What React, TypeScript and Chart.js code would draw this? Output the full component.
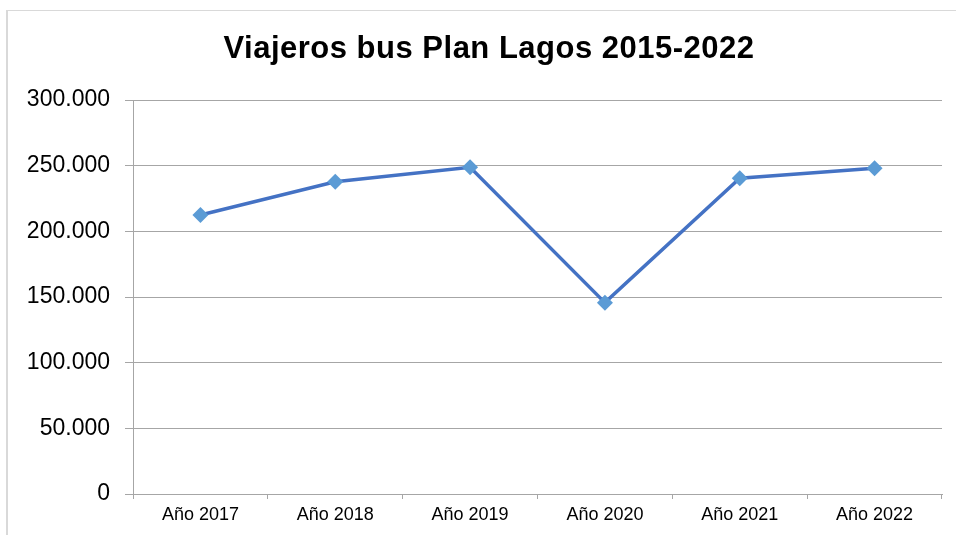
import React, { useEffect, useRef } from "react";
import { Chart, registerables } from "chart.js";

Chart.register(...registerables);

const chartTitle = "Viajeros bus Plan Lagos 2015-2022";
const categories = ["Año 2017", "Año 2018", "Año 2019", "Año 2020", "Año 2021", "Año 2022"];
const viajeros = [212400, 237800, 248800, 145700, 240400, 248000];
const yMin = 0;
const yMax = 300000;
const yStep = 50000;

const fmt = (v: number) => String(Math.round(v)).replace(/\B(?=(\d{3})+(?!\d))/g, ".");

export default function App() {
  const ref = useRef<HTMLCanvasElement | null>(null);

  useEffect(() => {
    document.body.style.margin = "0";
    const canvas = ref.current;
    if (!canvas) return;

    const framePlugin = {
      id: "frame",
      afterDraw(chart: any) {
        const ctx = chart.ctx;
        ctx.save();
        ctx.fillStyle = "#d9d9d9";
        ctx.fillRect(6, 10, 2, 525);
        ctx.fillRect(6, 10, 950, 1);
        ctx.fillStyle = "#000000";
        ctx.font = 'bold 31px "Liberation Sans", Arial, sans-serif';
        ctx.textAlign = "left";
        ctx.textBaseline = "alphabetic";
        try {
          (ctx as any).letterSpacing = "0.5px";
        } catch (e) {}
        const w = ctx.measureText(chartTitle).width;
        ctx.fillText(chartTitle, 489 - w / 2, 58);
        ctx.restore();
      },
    };

    const chart = new Chart(canvas, {
      type: "line",
      data: {
        labels: categories,
        datasets: [
          {
            data: viajeros,
            borderColor: "#4472C4",
            borderWidth: 3.5,
            backgroundColor: "#5B9BD5",
            pointBackgroundColor: "#5B9BD5",
            pointBorderColor: "#5B9BD5",
            pointStyle: "rectRot",
            pointRadius: 8,
            pointBorderWidth: 0,
            tension: 0,
            fill: false,
          },
        ],
      },
      options: {
        animation: false,
        responsive: false,
        maintainAspectRatio: false,
        devicePixelRatio: 1,
        layout: { padding: { left: 0, right: 14, top: 100, bottom: 0 } },
        plugins: {
          legend: { display: false },
          title: { display: false },
          tooltip: { enabled: false },
        },
        scales: {
          x: {
            offset: true,
            grid: {
              offset: true,
              drawOnChartArea: false,
              drawTicks: true,
              tickLength: 5,
              color: "#a6a6a6",
            },
            border: { color: "#a6a6a6", width: 1 },
            ticks: {
              color: "#000000",
              font: { family: '"Liberation Sans", Arial, sans-serif', size: 18 },
              padding: 5,
              maxRotation: 0,
              autoSkip: false,
            },
            afterFit: (s: any) => {
              s.height = 41;
            },
          },
          y: {
            min: yMin,
            max: yMax,
            grid: {
              color: "#a6a6a6",
              drawTicks: true,
              tickLength: 8,
            },
            border: { color: "#a6a6a6", width: 1 },
            ticks: {
              stepSize: yStep,
              color: "#000000",
              font: { family: '"Liberation Sans", Arial, sans-serif', size: 23 },
              padding: 15,
              callback: (v: any) => fmt(Number(v)),
            },
            afterFit: (s: any) => {
              s.width = 133;
            },
          },
        },
      },
      plugins: [framePlugin],
    });

    return () => chart.destroy();
  }, []);

  return (
    <div style={{ position: "absolute", left: 0, top: 0, width: 956, height: 535, background: "#ffffff", overflow: "hidden" }}>
      <canvas ref={ref} width={956} height={535} style={{ display: "block", width: 956, height: 535 }} />
    </div>
  );
}
